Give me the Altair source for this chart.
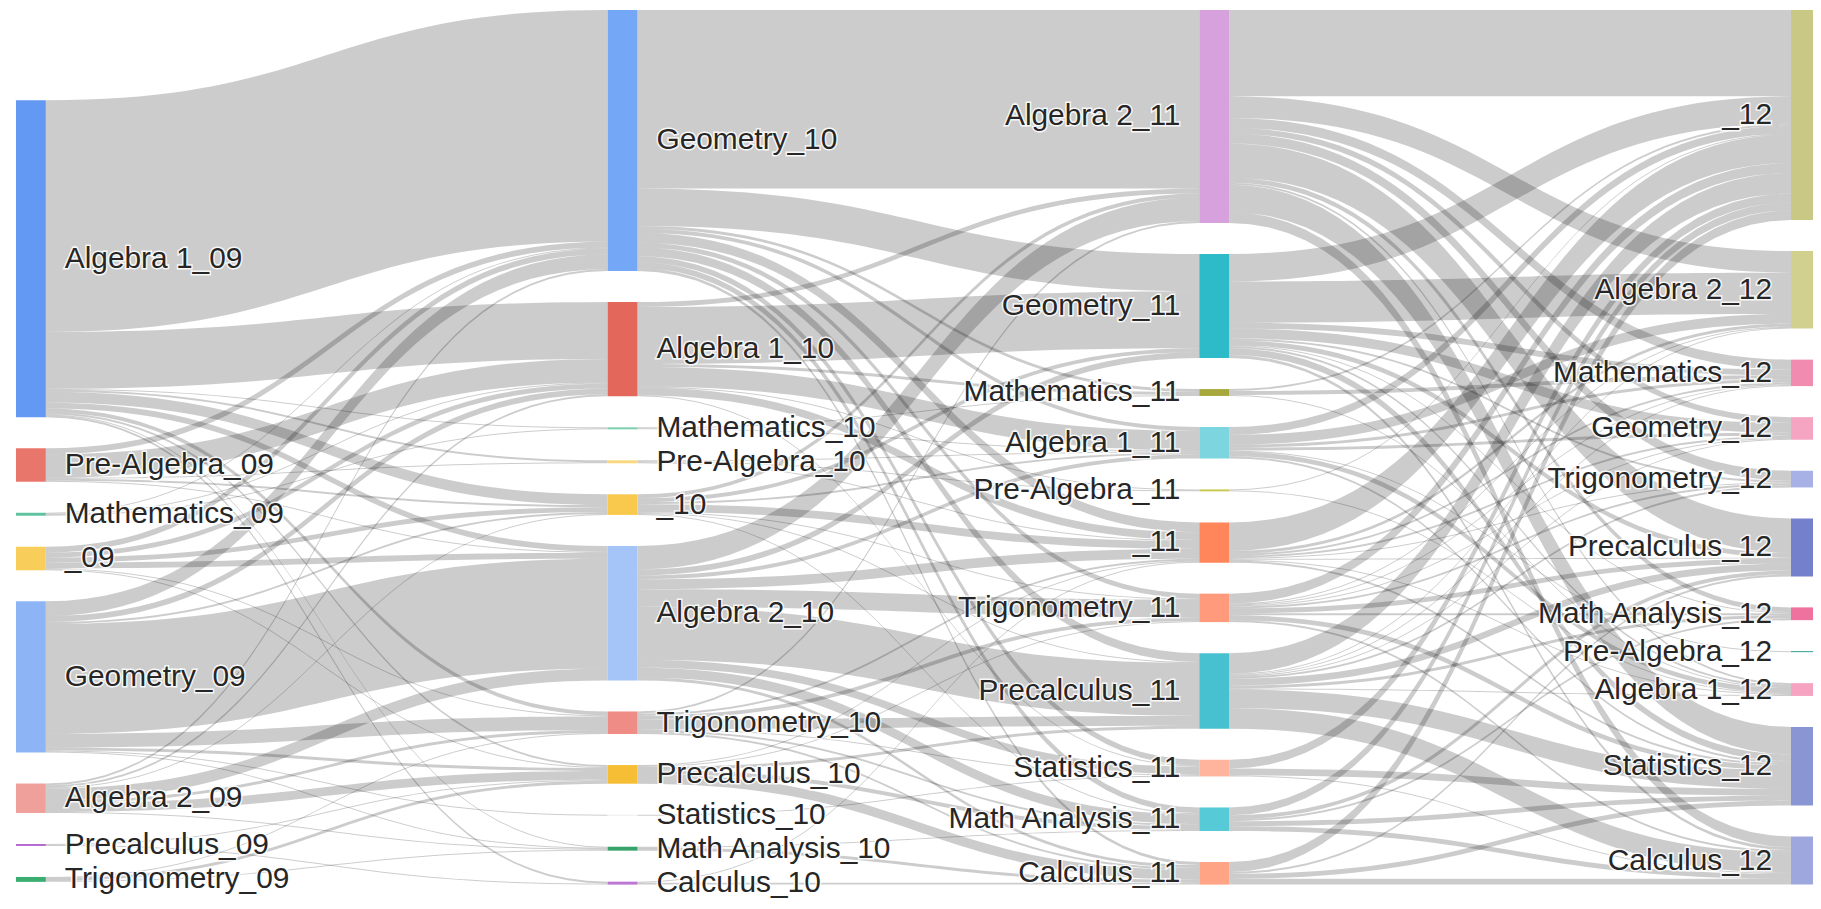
import altair as alt
import numpy as np
import pandas as pd

# ---------------- data ----------------
NODES_09 = ["Algebra 1_09", "Pre-Algebra_09", "Mathematics_09", "_09", "Geometry_09",
            "Algebra 2_09", "Precalculus_09", "Trigonometry_09"]
NODES_10 = ["Geometry_10", "Algebra 1_10", "Mathematics_10", "Pre-Algebra_10", "_10",
            "Algebra 2_10", "Trigonometry_10", "Precalculus_10", "Statistics_10",
            "Math Analysis_10", "Calculus_10"]
NODES_11 = ["Algebra 2_11", "Geometry_11", "Mathematics_11", "Algebra 1_11", "Pre-Algebra_11",
            "_11", "Trigonometry_11", "Precalculus_11", "Statistics_11", "Math Analysis_11",
            "Calculus_11"]
NODES_12 = ["_12", "Algebra 2_12", "Mathematics_12", "Geometry_12", "Trigonometry_12",
            "Precalculus_12", "Math Analysis_12", "Pre-Algebra_12", "Algebra 1_12",
            "Statistics_12", "Calculus_12"]

# rows = source nodes, columns = target nodes (same order as the lists above)
FLOW_09_10 = [
    [236, 58, 1, 2, 11, 6, 4, 2, 0, 1, 2],
    [6, 24, 0, 1, 2, 1, 0, 0, 0, 0, 0],
    [1, 1, 1, 0, 0, 0, 0, 0, 0, 0, 0],
    [6, 5, 0, 0, 5, 6, 1, 1, 0, 0, 0],
    [15, 6, 0, 0, 2, 112, 14, 3, 1, 1, 0],
    [2, 2, 0, 0, 1, 12, 3, 9, 0, 1, 0],
    [0, 0, 0, 0, 0, 0, 0, 1, 0, 0, 1],
    [0, 0, 0, 0, 0, 0, 1, 3, 0, 1, 0],
]
FLOW_10_11 = [
    [182, 38, 3, 4, 0, 10, 5, 9, 6, 6, 3],
    [5, 58, 3, 20, 1, 8, 0, 0, 1, 0, 0],
    [0, 0, 1, 1, 0, 0, 0, 0, 0, 0, 0],
    [0, 0, 0, 1, 1, 1, 0, 0, 0, 0, 0],
    [4, 4, 0, 2, 0, 8, 1, 1, 0, 1, 0],
    [24, 6, 0, 4, 0, 10, 18, 54, 8, 10, 3],
    [2, 0, 0, 0, 0, 2, 4, 10, 1, 2, 2],
    [0, 0, 0, 0, 0, 1, 1, 3, 0, 4, 10],
    [0, 0, 0, 0, 0, 0, 0, 0, 1, 0, 0],
    [0, 0, 0, 0, 0, 0, 0, 0, 0, 1, 3],
    [0, 0, 0, 0, 0, 1, 0, 0, 0, 0, 2],
]
FLOW_11_12 = [
    [88, 22, 10, 6, 10, 35, 5, 0, 2, 28, 11],
    [28, 42, 6, 10, 2, 5, 1, 0, 2, 7, 3],
    [2, 0, 4, 0, 0, 0, 0, 0, 1, 0, 0],
    [8, 10, 3, 3, 0, 0, 0, 1, 5, 2, 0],
    [1, 0, 0, 0, 0, 0, 0, 0, 1, 0, 0],
    [29, 3, 2, 2, 1, 1, 0, 0, 1, 2, 0],
    [10, 1, 1, 1, 2, 5, 2, 0, 0, 5, 2],
    [21, 1, 1, 1, 2, 7, 3, 0, 1, 19, 21],
    [9, 0, 0, 0, 0, 0, 0, 0, 0, 7, 1],
    [8, 0, 0, 0, 0, 4, 2, 0, 0, 5, 5],
    [10, 0, 0, 0, 0, 2, 0, 0, 0, 5, 6],
]

COLORS_09 = ["#6399F2", "#E8766B", "#5FC29E", "#F8CD5A", "#8DB5F6", "#F0A09A", "#B566CF", "#3AAE70"]
COLORS_10 = ["#74A8F6", "#E4675C", "#7ACFAE", "#F9D77E", "#F8C94D", "#A5C4F7", "#EE8C85",
             "#F6BE34", "#EDEDED", "#36A46A", "#BC77D4"]
COLORS_11 = ["#D6A1DC", "#2DBAC9", "#A7A83B", "#7DD5DF", "#C8C850", "#FF855A", "#FF9A7C",
             "#47C1D0", "#FFB49E", "#56CAD6", "#FFA484"]
COLORS_12 = ["#C9C885", "#D2D08F", "#F28BB0", "#F5A5C2", "#A7B1E5", "#7480CC", "#EF729E",
             "#2B9E8D", "#F5A3C0", "#8A95D4", "#9FA8DE"]

# ---------------- layout (sankey) ----------------
COLUMNS = [NODES_09, NODES_10, NODES_11, NODES_12]
FLOWS = [FLOW_09_10, FLOW_10_11, FLOW_11_12]
COLORS = [COLORS_09, COLORS_10, COLORS_11, COLORS_12]

W, H = 1813, 890
PX_PER_COL = 594.3
NODE_W = 30 / PX_PER_COL
LABEL_PAD = 19 / PX_PER_COL
GAP = 31.6
COL_TOP = [92.0, 0.0, 0.0, 0.0]
Y_MAX = H / 0.986

node_rows = []
node_top = []
for c, names in enumerate(COLUMNS):
    y = COL_TOP[c]
    tops = []
    for i, name in enumerate(names):
        out_v = sum(FLOWS[c][i]) if c < len(FLOWS) else 0
        in_v = sum(row[i] for row in FLOWS[c - 1]) if c > 0 else 0
        v = max(out_v, in_v)
        tops.append(y)
        left_side = c < 2
        node_rows.append(dict(
            name=name, x0=c, x1=c + NODE_W, y0=y, y1=y + v, yc=y + v / 2,
            side="R" if left_side else "L",
            lx=(c + NODE_W + LABEL_PAD) if left_side else (c - LABEL_PAD),
        ))
        y += v + GAP
    node_top.append(tops)
nodes_df = pd.DataFrame(node_rows)

T = np.linspace(0, 1, 41)
link_rows = []
lid = 0
for c, M in enumerate(FLOWS):
    ns, nt = len(M), len(M[0])
    s_off = list(node_top[c])
    t_off = list(node_top[c + 1])
    s_y = {}
    for i in range(ns):
        for j in range(nt):
            if M[i][j] > 0:
                s_y[(i, j)] = s_off[i]
                s_off[i] += M[i][j]
    x0, x1 = c + NODE_W, c + 1.0
    xm = (x0 + x1) / 2
    for j in range(nt):
        for i in range(ns):
            v = M[i][j]
            if v <= 0:
                continue
            ys, yt = s_y[(i, j)], t_off[j]
            t_off[j] += v
            for t in T:
                b0, b1, b2, b3 = (1 - t) ** 3, 3 * (1 - t) ** 2 * t, 3 * (1 - t) * t ** 2, t ** 3
                x = b0 * x0 + (b1 + b2) * xm + b3 * x1
                ytop = (b0 + b1) * ys + (b2 + b3) * yt
                link_rows.append(dict(link=lid, x=x, y=ytop, y2=ytop + v))
            lid += 1
links_df = pd.DataFrame(link_rows)

all_names = [n for col in COLUMNS for n in col]
all_colors = [k for col in COLORS for k in col]

x_lo = -8 / PX_PER_COL
xs = alt.Scale(domain=[x_lo, x_lo + W / PX_PER_COL], nice=False, zero=False)
ys = alt.Scale(domain=[0, Y_MAX], reverse=True, nice=False, zero=False)

links = alt.Chart(links_df).mark_area(color="#000000", opacity=0.2, clip=True).encode(
    x=alt.X("x:Q", scale=xs, axis=None),
    y=alt.Y("y:Q", scale=ys, axis=None),
    y2="y2:Q",
    detail="link:N",
)

nodes = alt.Chart(nodes_df).mark_rect(clip=True).encode(
    x=alt.X("x0:Q", scale=xs, axis=None),
    x2="x1:Q",
    y=alt.Y("y0:Q", scale=ys, axis=None),
    y2="y1:Q",
    color=alt.Color("name:N", scale=alt.Scale(domain=all_names, range=all_colors), legend=None),
)

FONT = "Liberation Sans"


def labels(side, align):
    base = alt.Chart(nodes_df).transform_filter(alt.datum.side == side)
    enc = dict(
        x=alt.X("lx:Q", scale=xs, axis=None),
        y=alt.Y("yc:Q", scale=ys, axis=None),
        text="name:N",
    )
    halo = base.mark_text(align=align, baseline="middle", font=FONT, fontSize=30,
                          stroke="white", strokeWidth=3, strokeOpacity=0.85,
                          color="white").encode(**enc)
    txt = base.mark_text(align=align, baseline="middle", font=FONT, fontSize=30,
                         color="#262626").encode(**enc)
    return [halo, txt]


chart = alt.layer(
    links, nodes, *labels("R", "left"), *labels("L", "right")
).properties(
    width=W, height=H, padding=0,
    autosize=alt.AutoSizeParams(type="none"),
).configure_view(stroke=None)

chart.save("out.html", embed_options={"renderer": "svg", "actions": False})
